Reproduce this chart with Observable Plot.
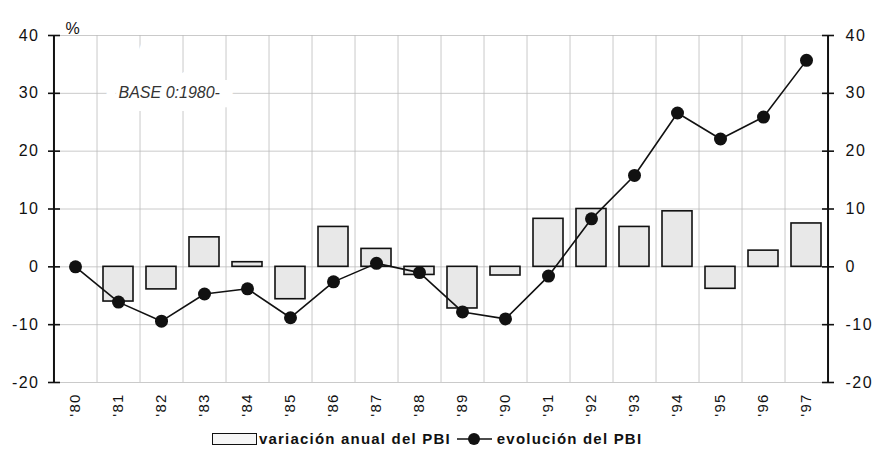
<!DOCTYPE html>
<html>
<head>
<meta charset="utf-8">
<script src="https://cdn.jsdelivr.net/npm/d3@7"></script>
<script src="https://cdn.jsdelivr.net/npm/@observablehq/plot@0.6"></script>
<style>
  body { margin: 0; background: #fff; font-family: "Liberation Sans", Arial, sans-serif; }
  #wrap { position: relative; width: 875px; height: 450px; }
  #legend { position: absolute; left: 212px; top: 430px; display: flex; align-items: center; font-weight: bold; font-size: 15px; color: #111; letter-spacing: 1.2px; }
  .box { width: 43px; height: 10px; border: 1.5px solid #111; background: #f6f6f6; margin-right: 2px; }
  .yl text { letter-spacing: 1.5px; }
  .xl text { letter-spacing: 1.2px; }
</style>
</head>
<body>
<div id="wrap">
  <div id="chart"></div>
  <div id="legend">
    <div class="box"></div><span>variación anual del PBI</span>
    <svg width="36" height="16" style="margin-left:6px;margin-right:4px"><line x1="0" y1="8" x2="35" y2="8" stroke="#111" stroke-width="1.6"/><circle cx="17" cy="8" r="6" fill="#111"/></svg>
    <span>evolución del PBI</span>
  </div>
</div>
<script>
const years = ["'80","'81","'82","'83","'84","'85","'86","'87","'88","'89","'90","'91","'92","'93","'94","'95","'96","'97"];
const variacion = [null, -6.0, -3.9, 5.1, 0.8, -5.6, 6.9, 3.1, -1.4, -7.2, -1.5, 8.3, 10.0, 6.9, 9.6, -3.8, 2.8, 7.5];
const evolucion = [0, -6.1, -9.4, -4.7, -3.8, -8.8, -2.6, 0.6, -1.0, -7.8, -9.0, -1.6, 8.3, 15.8, 26.6, 22.1, 25.9, 35.7];
const yTicks = [-20, -10, 0, 10, 20, 30, 40];
const note = "BASE 0:1980-";
const unit = "%";

const barData = years.map((y, i) => ({year: y, v: variacion[i]})).filter(d => d.v != null);
const lineData = years.map((y, i) => ({year: y, v: evolucion[i]}));

const W = 875, H = 425, mL = 53, mR = 47, mT = 35, mB = 43;
const step = (W - mL - mR) / years.length;
const ink = "#111";
const grid = "#bdbdbd";
const fmt = d => String(d);

const chart = Plot.plot({
  width: W, height: H,
  marginLeft: mL, marginRight: mR, marginTop: mT, marginBottom: mB,
  style: {fontFamily: "'Liberation Sans', Arial, sans-serif", fontSize: "16px", color: ink, background: "transparent"},
  x: {type: "band", domain: years, paddingInner: 0.3, paddingOuter: 0.15, label: null},
  y: {domain: [-20, 40], label: null},
  marks: [
    Plot.ruleY(yTicks, {stroke: grid, strokeWidth: 0.8}),
    Plot.ruleX(years.slice(0, -1), {dx: step / 2, stroke: grid, strokeWidth: 0.8}),
    Plot.text([note], {x: () => "'81", y: () => 30, text: d => d, textAnchor: "start", fontStyle: "italic", fontSize: 16, fill: "#fff", stroke: "white", strokeWidth: 26, strokeLinejoin: "miter", style: "letter-spacing:1.2px"}),
    Plot.text([note], {x: () => "'81", y: () => 30, text: d => d, textAnchor: "start", fontStyle: "italic", fontSize: 16, fill: "#333", style: "letter-spacing:1.2px"}),
    Plot.barY(barData, {x: "year", y: "v", fill: "#e8e8e8", stroke: ink, strokeWidth: 1.6}),
    Plot.ruleX([years[0]], {dx: -step / 2, stroke: ink, strokeWidth: 2}),
    Plot.ruleX([years[years.length - 1]], {dx: step / 2, stroke: ink, strokeWidth: 2}),
    Plot.axisY(yTicks, {anchor: "left", tickSize: 12, dx: 7, text: null, stroke: ink, strokeWidth: 1.6}),
    Plot.axisY(yTicks, {anchor: "right", tickSize: 12, dx: -7, text: null, stroke: ink, strokeWidth: 1.6}),
    Plot.axisY(yTicks, {anchor: "left", tickSize: 0, tickPadding: 14, fontSize: 16, tickFormat: fmt, label: null, className: "yl"}),
    Plot.axisY(yTicks, {anchor: "right", tickSize: 0, tickPadding: 17, fontSize: 16, tickFormat: fmt, label: null, className: "yl"}),
    Plot.axisX({tickSize: 0, tickRotate: -90, tickPadding: 11, fontSize: 15, label: null, className: "xl"}),
    Plot.line(lineData, {x: "year", y: "v", stroke: ink, strokeWidth: 1.6}),
    Plot.dot(lineData, {x: "year", y: "v", r: 6.5, fill: ink}),
    Plot.text([unit], {frameAnchor: "top-left", text: d => d, dx: 12, dy: -13, textAnchor: "start", fontSize: 16})
  ]
});
document.getElementById("chart").appendChild(chart);
</script>
</body>
</html>
